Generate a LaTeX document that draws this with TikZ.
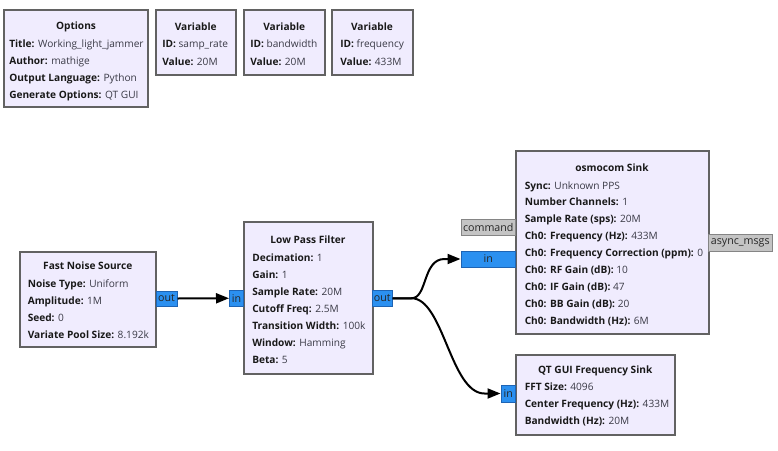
\documentclass[tikz,border=0pt]{standalone}
\usepackage{fontspec}
\IfFontExistsTF{Noto Sans Bold}
  {\setmainfont{Noto Sans}[BoldFont={Noto Sans Bold}]}
  {\IfFontExistsTF{Open Sans Bold}
     {\setmainfont{Open Sans}[BoldFont={Open Sans Bold}]}
     {\setmainfont{Noto Sans}[BoldFeatures={FakeBold=2}]}}
\usetikzlibrary{fit,arrows.meta,calc}
\definecolor{blkfill}{HTML}{F0ECFE}
\definecolor{blkdraw}{HTML}{626262}
\definecolor{portfill}{HTML}{2B90F0}
\definecolor{portdraw}{HTML}{1E64B4}
\definecolor{msgfill}{HTML}{C4C4C4}
\definecolor{msgdraw}{HTML}{858585}
\definecolor{valcol}{HTML}{3A3A46}
\tikzset{
  blk/.style={draw=blkdraw, fill=blkfill, line width=1.5pt, inner sep=0pt},
  port/.style={draw=portdraw, fill=portfill, line width=0.75pt, inner sep=0pt},
  msgport/.style={draw=msgdraw, fill=msgfill, line width=0.75pt, inner sep=0pt},
  ptext/.style={inner sep=0pt, font=\fontsize{8}{9}\selectfont, text=black!85},
  ttl/.style={anchor=base, inner sep=0pt, font=\fontsize{7.6}{9}\selectfont\bfseries, text=black!90},
  row/.style={anchor=base west, inner sep=0pt, font=\fontsize{7.6}{9}\selectfont, text=valcol},
  edge/.style={draw=black, line width=1.5pt, -{Triangle[length=9.75pt,width=7.5pt]}}
}
\newcommand{\lb}[1]{\textbf{\color{black!90}#1}}
\begin{document}
\begin{tikzpicture}[x=0.75pt,y=-0.75pt]
\fill[white] (0,0) rectangle (778,450);
\useasboundingbox (0,0) rectangle (778,450);

% Options
\node[blk, fit={(4,10) (148,107)}] (opt) {};
\node[ttl] (optt) at (76,29) {Options};
\node[row] (opt1) at (9,47) {\lb{Title:} Working\_light\_jammer};
\node[row] (opt2) at (9,64.5) {\lb{Author:} mathige};
\node[row] (opt3) at (9,81.5) {\lb{Output Language:} Python};
\node[row] (opt4) at (9,98.5) {\lb{Generate Options:} QT GUI};

% Variables
\node[blk, fit={(155.5,10) (236,75)}] (v1) {};
\node[ttl] (v1t) at (195.75,30) {Variable};
\node[row] (v1a) at (162,47) {\lb{ID:} samp\_rate};
\node[row] (v1b) at (162,65) {\lb{Value:} 20M};

\node[blk, fit={(243.5,10) (325,75)}] (v2) {};
\node[ttl] (v2t) at (284.25,30) {Variable};
\node[row] (v2a) at (250,47) {\lb{ID:} bandwidth};
\node[row] (v2b) at (250,65) {\lb{Value:} 20M};

\node[blk, fit={(331.5,10) (412.5,75)}] (v3) {};
\node[ttl] (v3t) at (372,30) {Variable};
\node[row] (v3a) at (340,47) {\lb{ID:} frequency};
\node[row] (v3b) at (340,65) {\lb{Value:} 433M};

% Fast Noise Source
\node[blk, fit={(19.5,251.5) (156,347)}] (fns) {};
\node[ttl] (fnst) at (87.75,269) {Fast Noise Source};
\node[row] (fns1) at (27.5,287) {\lb{Noise Type:} Uniform};
\node[row] (fns2) at (27.5,304.5) {\lb{Amplitude:} 1M};
\node[row] (fns3) at (27.5,321) {\lb{Seed:} 0};
\node[row] (fns4) at (27.5,338) {\lb{Variate Pool Size:} 8.192k};
\node[port, fit={(156,291) (177,306)}] (fnsout) {};
\node[ptext] (fnsoutt) at (fnsout.center) {out};

% Low Pass Filter
\node[blk, fit={(243.5,222) (372.5,374)}] (lpf) {};
\node[ttl] (lpft) at (308,243) {Low Pass Filter};
\node[row] (lpf1) at (252,261.5) {\lb{Decimation:} 1};
\node[row] (lpf2) at (252,278.5) {\lb{Gain:} 1};
\node[row] (lpf3) at (252,295.5) {\lb{Sample Rate:} 20M};
\node[row] (lpf4) at (252,312.5) {\lb{Cutoff Freq:} 2.5M};
\node[row] (lpf5) at (252,329) {\lb{Transition Width:} 100k};
\node[row] (lpf6) at (252,346) {\lb{Window:} Hamming};
\node[row] (lpf7) at (252,363) {\lb{Beta:} 5};
\node[port, fit={(229.5,290.5) (243.5,306)}] (lpfin) {};
\node[ptext] (lpfint) at (lpfin.center) {in};
\node[port, fit={(372.5,290.5) (392,306)}] (lpfout) {};
\node[ptext] (lpfoutt) at (lpfout.center) {out};

% osmocom Sink
\node[blk, fit={(515.5,151) (708.5,334)}] (osm) {};
\node[ttl] (osmt) at (612,171) {osmocom Sink};
\node[row] (osm1) at (524.5,189) {\lb{Sync:} Unknown PPS};
\node[row] (osm2) at (524.5,205.5) {\lb{Number Channels:} 1};
\node[row] (osm3) at (524.5,222) {\lb{Sample Rate (sps):} 20M};
\node[row] (osm4) at (524.5,239) {\lb{Ch0: Frequency (Hz):} 433M};
\node[row] (osm5) at (524.5,256.5) {\lb{Ch0: Frequency Correction (ppm):} 0};
\node[row] (osm6) at (524.5,273.5) {\lb{Ch0: RF Gain (dB):} 10};
\node[row] (osm7) at (524.5,290.5) {\lb{Ch0: IF Gain (dB):} 47};
\node[row] (osm8) at (524.5,307) {\lb{Ch0: BB Gain (dB):} 20};
\node[row] (osm9) at (524.5,324) {\lb{Ch0: Bandwidth (Hz):} 6M};
\node[msgport, fit={(461,219) (515.5,235)}] (osmcmd) {};
\node[ptext] (osmcmdt) at (osmcmd.center) {command};
\node[port, fit={(461,251) (515.5,267)}] (osmin) {};
\node[ptext] (osmint) at (osmin.center) {in};
\node[msgport, fit={(708.5,234) (772,251)}] (osmasync) {};
\node[ptext] (osmasynct) at (osmasync.center) {async\_msgs};

% QT GUI Frequency Sink
\node[blk, fit={(515.5,354.5) (675,435)}] (qt) {};
\node[ttl] (qtt) at (595.25,373) {QT GUI Frequency Sink};
\node[row] (qt1) at (524.5,390.5) {\lb{FFT Size:} 4096};
\node[row] (qt2) at (524.5,407.5) {\lb{Center Frequency (Hz):} 433M};
\node[row] (qt3) at (524.5,424.5) {\lb{Bandwidth (Hz):} 20M};
\node[port, fit={(501,385) (515.5,402)}] (qtin) {};
\node[ptext] (qtint) at (qtin.center) {in};

% Connections
\draw[edge] (fnsout.east) -- (lpfin.west);
\draw[edge] (lpfout.east) -- ++(19,0) .. controls +(16,0) and +(-22,0) .. ($(osmin.west)+(-16,0)$) -- (osmin.west);
\draw[edge] (lpfout.east) -- ++(19,0) .. controls +(32,0) and +(-34,0) .. ($(qtin.west)+(-16,0)$) -- (qtin.west);
\end{tikzpicture}
\end{document}
